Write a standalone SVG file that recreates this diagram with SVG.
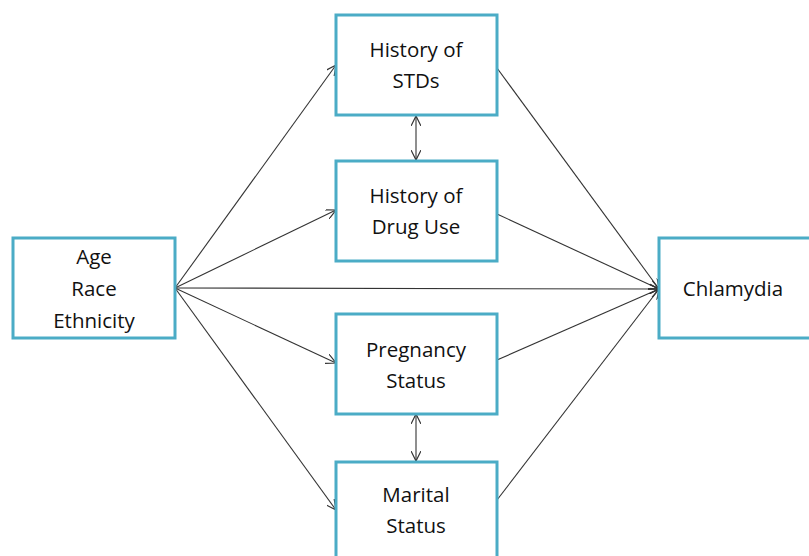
<svg xmlns="http://www.w3.org/2000/svg" width="809" height="556" viewBox="0 0 809 556">
<defs>
<marker id="arr" viewBox="0 0 10 10" refX="10" refY="5" markerWidth="10" markerHeight="10" markerUnits="userSpaceOnUse" orient="auto-start-reverse">
<path d="M0,0 L10,5 L0,10" fill="none" stroke="#333" stroke-width="1.2"/>
</marker>
</defs>
<style>
.box{fill:#fff;stroke:#4BACC6;stroke-width:3}
.t{font-family:"Open Sans","Liberation Sans",sans-serif;font-size:20.5px;fill:#111;text-anchor:middle}
.c{stroke:#333;stroke-width:1.1;fill:none}
</style>
<rect width="809" height="556" fill="#fff"/>
<g id="connectors">
<line class="c" x1="175" y1="288" x2="336" y2="65" marker-end="url(#arr)"/>
<line class="c" x1="175" y1="288" x2="336" y2="210" marker-end="url(#arr)"/>
<line class="c" x1="175" y1="288" x2="659" y2="289" marker-end="url(#arr)"/>
<line class="c" x1="175" y1="288" x2="336" y2="363" marker-end="url(#arr)"/>
<line class="c" x1="175" y1="288" x2="336" y2="510" marker-end="url(#arr)"/>
<line class="c" x1="497" y1="68" x2="659" y2="289" marker-end="url(#arr)"/>
<line class="c" x1="497" y1="214" x2="659" y2="289" marker-end="url(#arr)"/>
<line class="c" x1="497" y1="360" x2="659" y2="289" marker-end="url(#arr)"/>
<line class="c" x1="497" y1="500" x2="659" y2="289" marker-end="url(#arr)"/>
<line class="c" x1="416" y1="116" x2="416" y2="160" marker-start="url(#arr)" marker-end="url(#arr)"/>
<line class="c" x1="416" y1="414" x2="416" y2="461" marker-start="url(#arr)" marker-end="url(#arr)"/>
</g>
<g id="demo">
<rect class="box" x="13" y="238" width="162" height="100"/>
<text class="t" x="94" y="264">Age</text>
<text class="t" x="94" y="296">Race</text>
<text class="t" x="94" y="328">Ethnicity</text>
</g>
<g id="stds">
<rect class="box" x="336" y="15" width="161" height="100"/>
<text class="t" x="416" y="57">History of</text>
<text class="t" x="416" y="88">STDs</text>
</g>
<g id="drug">
<rect class="box" x="336" y="161" width="161" height="100"/>
<text class="t" x="416" y="203">History of</text>
<text class="t" x="416" y="234">Drug Use</text>
</g>
<g id="pregnancy">
<rect class="box" x="336" y="314" width="161" height="100"/>
<text class="t" x="416" y="357">Pregnancy</text>
<text class="t" x="416" y="388">Status</text>
</g>
<g id="marital">
<rect class="box" x="336" y="462" width="161" height="100"/>
<text class="t" x="416" y="502">Marital</text>
<text class="t" x="416" y="533">Status</text>
</g>
<g id="chlamydia">
<rect class="box" x="659" y="238" width="160" height="100"/>
<text class="t" x="733" y="296">Chlamydia</text>
</g>
</svg>
